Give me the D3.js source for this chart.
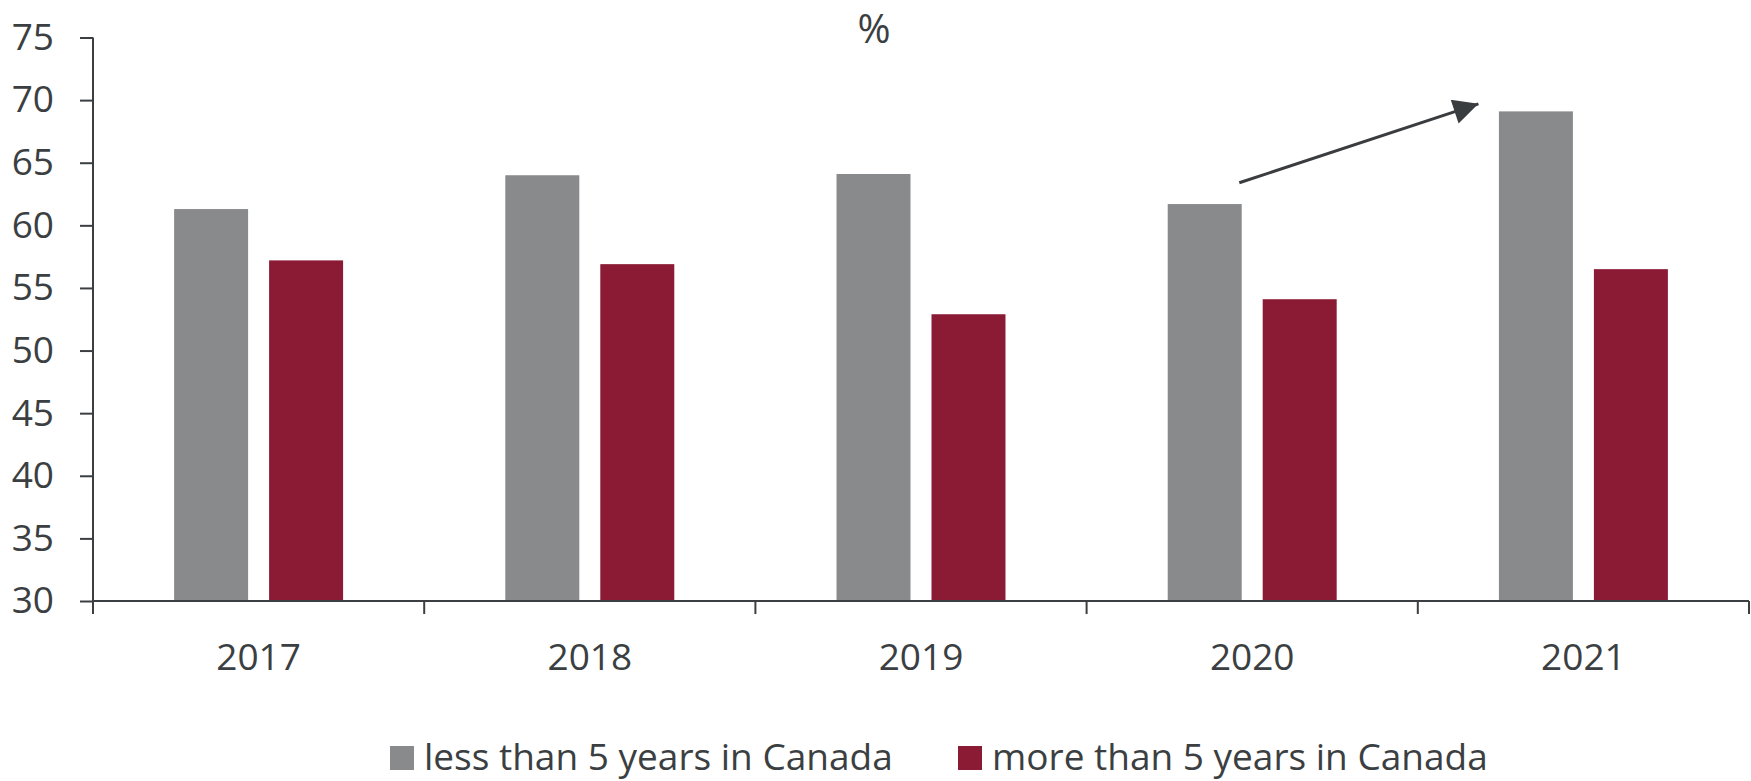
<!DOCTYPE html>
<html>
<head>
    <meta charset="utf-8">
    <title>Share by years in Canada</title>
    <script src="https://cdnjs.cloudflare.com/ajax/libs/d3/7.8.5/d3.min.js"></script>
    <style>
        body { margin: 0; background: #fff; }
        text { font-family: "Open Sans", sans-serif; fill: #3b3f42; }
    </style>
</head>
<body>
<div id="chart"></div>
<script>
    var width = 1751;
    var height = 781;

    // data
    var years = ["2017", "2018", "2019", "2020", "2021"];
    var seriesNames = ["less than 5 years in Canada", "more than 5 years in Canada"];
    var lessThan5 = [61.3, 64.0, 64.1, 61.7, 69.1];
    var moreThan5 = [57.2, 56.9, 52.9, 54.1, 56.5];
    var yTicks = [30, 35, 40, 45, 50, 55, 60, 65, 70, 75];
    var colors = ["#898a8c", "#8b1a35"];
    // trend arrow from 2020 to 2021 (band fraction, value)
    var arrowFrom = { year: "2020", frac: 0.461, value: 63.4 };
    var arrowTo = { year: "2021", frac: 0.183, value: 69.7 };

    var margin = { top: 37.5, right: 2, bottom: 180, left: 93 };
    var plotW = width - margin.left - margin.right;
    var plotBottom = 601;

    var svg = d3.select("#chart").append("svg")
            .attr("width", width)
            .attr("height", height);

    var x0 = d3.scaleBand().domain(years).range([margin.left, margin.left + plotW]).padding(0);
    var x1 = d3.scaleBand().domain(seriesNames).range([0, x0.bandwidth()])
            .paddingInner(0.221).paddingOuter(0.854);
    var y = d3.scaleLinear().domain([30, 75]).range([plotBottom, margin.top]);

    var rows = years.map(function (yr, i) {
        return { year: yr, values: [lessThan5[i], moreThan5[i]] };
    });

    // bars
    var groups = svg.selectAll("g.year")
            .data(rows)
            .enter().append("g")
            .attr("class", "year")
            .attr("transform", function (d) { return "translate(" + x0(d.year) + ",0)"; });

    groups.selectAll("rect")
            .data(function (d) {
                return d.values.map(function (v, j) { return { name: seriesNames[j], value: v, idx: j }; });
            })
            .enter().append("rect")
            .attr("x", function (d) { return x1(d.name); })
            .attr("y", function (d) { return y(d.value); })
            .attr("width", x1.bandwidth())
            .attr("height", function (d) { return plotBottom - y(d.value); })
            .attr("fill", function (d) { return colors[d.idx]; });

    // y axis
    var yAxis = d3.axisLeft(y).tickValues(yTicks).tickSize(13).tickPadding(26);
    var gy = svg.append("g")
            .attr("transform", "translate(" + margin.left + ",0)")
            .call(yAxis);
    gy.select(".domain").remove();
    gy.append("line")
            .attr("x1", 0).attr("x2", 0)
            .attr("y1", y(75)).attr("y2", plotBottom + 13)
            .attr("stroke", "#3b3f42").attr("stroke-width", 2);
    gy.selectAll(".tick line").attr("stroke", "#3b3f42").attr("stroke-width", 2);
    gy.selectAll(".tick text")
            .style("font-size", "37px")
            .attr("fill", "#3b3f42");

    // x axis
    var gx = svg.append("g").attr("transform", "translate(0," + plotBottom + ")");
    gx.append("line")
            .attr("x1", margin.left).attr("x2", margin.left + plotW)
            .attr("stroke", "#3b3f42").attr("stroke-width", 2);
    var bounds = years.map(function (d) { return x0(d); }).concat([x0(years[years.length - 1]) + x0.bandwidth()]);
    gx.selectAll("line.sep")
            .data(bounds.slice(1))
            .enter().append("line")
            .attr("class", "sep")
            .attr("x1", function (d) { return d; }).attr("x2", function (d) { return d; })
            .attr("y1", 0).attr("y2", 13)
            .attr("stroke", "#3b3f42").attr("stroke-width", 2);
    gx.selectAll("text")
            .data(years)
            .enter().append("text")
            .attr("x", function (d) { return x0(d) + x0.bandwidth() / 2; })
            .attr("y", 69)
            .attr("text-anchor", "middle")
            .style("font-size", "37px")
            .text(function (d) { return d; });

    // unit title
    svg.append("text")
            .attr("x", 874)
            .attr("y", 43)
            .attr("text-anchor", "middle")
            .style("font-size", "40px")
            .text("%");

    // arrow
    svg.append("defs").append("marker")
            .attr("id", "arrowhead")
            .attr("viewBox", "0 0 10 10")
            .attr("refX", 10).attr("refY", 5)
            .attr("markerUnits", "userSpaceOnUse")
            .attr("markerWidth", 29).attr("markerHeight", 25)
            .attr("orient", "auto")
            .append("path")
            .attr("d", "M0,0 L10,5 L0,10 Z")
            .attr("fill", "#3a3d40");

    svg.append("line")
            .attr("x1", x0(arrowFrom.year) + arrowFrom.frac * x0.bandwidth())
            .attr("y1", y(arrowFrom.value))
            .attr("x2", x0(arrowTo.year) + arrowTo.frac * x0.bandwidth())
            .attr("y2", y(arrowTo.value))
            .attr("stroke", "#3a3d40")
            .attr("stroke-width", 3)
            .attr("marker-end", "url(#arrowhead)");

    // legend
    var legendX = [390, 958];
    var legend = svg.selectAll("g.legend")
            .data(seriesNames)
            .enter().append("g")
            .attr("class", "legend")
            .attr("transform", function (d, i) { return "translate(" + legendX[i] + ",746)"; });
    legend.append("rect")
            .attr("width", 24).attr("height", 24)
            .attr("fill", function (d, i) { return colors[i]; });
    legend.append("text")
            .attr("x", 34)
            .attr("y", 24)
            .style("font-size", "37px")
            .text(function (d) { return d; });
</script>
</body>
</html>
